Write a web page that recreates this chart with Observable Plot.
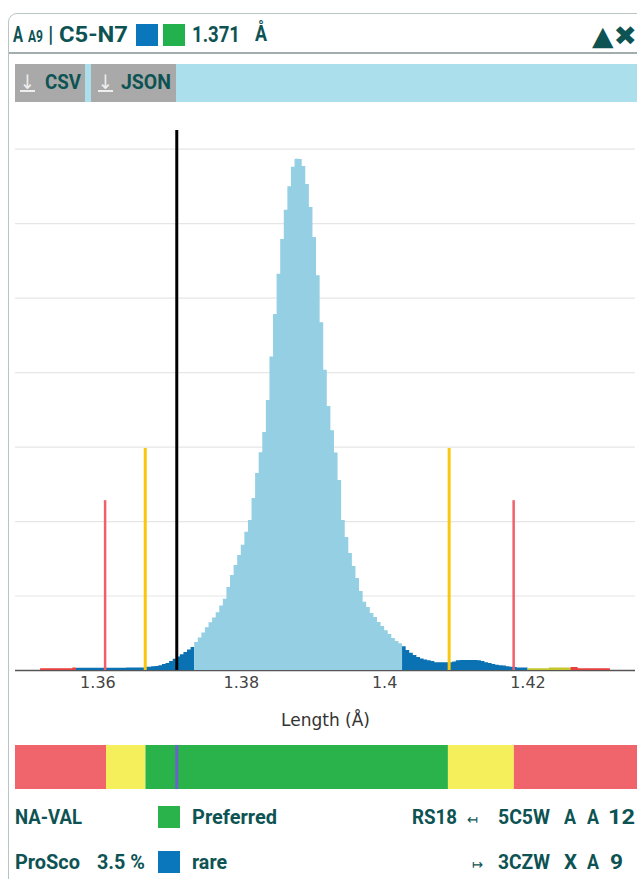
<!DOCTYPE html>
<html>
<head>
<meta charset="utf-8">
<script src="https://cdn.jsdelivr.net/npm/d3@7"></script>
<script src="https://cdn.jsdelivr.net/npm/@observablehq/plot@0.6"></script>
<style>
  html, body { margin: 0; padding: 0; background: #fff; }
  body { width: 637px; height: 879px; overflow: hidden; position: relative; font-family: Roboto, "Noto Sans", sans-serif; }
  .abs { position: absolute; white-space: nowrap; }
  .t { position: absolute; white-space: nowrap; font-weight: 700; color: #0e5353; transform-origin: 0 50%; }
</style>
</head>
<body>
<div class="abs" style="left:8px;top:13px;width:650px;height:900px;border:1.5px solid #b9c5c5;border-radius:9px;box-sizing:border-box;"></div>
<div class="abs" style="left:9px;top:52px;width:640px;height:2px;background:#a3adad;"></div>
<div class="abs" style="left:15px;top:64px;width:622px;height:38px;background:#aadfeb;"></div>
<div class="abs" style="left:15px;top:64px;width:70px;height:38px;background:#a9a9a9;"></div>
<div class="abs" style="left:91px;top:64px;width:85px;height:38px;background:#a9a9a9;"></div>
<div id="hist" class="abs" style="left:0;top:120px;"></div>
<div id="band" class="abs" style="left:0;top:745px;"></div>
<script>
// ---------- data ----------
const binStart = 1.352;
const binWidth = 0.0005;
const counts = [
  5,5,5,5,5,5,5,5,5,7,
  6,6,6,6,6,6,6,6,6,6,6,6,6,6,
  7,7,7,7,7,
  9,9,10,11,13,16,19,24,30,36,42,48,55,62,
  75,87,101,115,128,141,155,173,191,223,255,282,309,336,371,403,462,529,585,639,
  725,842,956,1064,1157,1236,1299,1351,1373,1372,1353,1305,1243,1163,1060,934,806,709,
  644,584,510,403,357,314,279,247,212,183,169,153,142,129,118,107,97,86,78,72,
  64,54,46,40,35,31,28,26,24,21,21,21,21,21,23,26,27,27,27,27,27,26,24,21,19,16,14,13,12,10,9,8,7,7,7,
  5,5,5,5,5,5,
  7,7,7,7,7,7,
  8,8,
  5,5,5,5,5,5,5,5,5
];
const zoneStarts = [1.352, 1.357, 1.3735, 1.4025, 1.420, 1.426];
const zoneNames  = ["extreme", "rare", "common", "rare", "outlier", "extreme"];
const zoneColors = {extreme: "#e8403f", rare: "#0a71b3", common: "#94cfe4", outlier: "#c4c62c"};

const ruleValues = [1.361, 1.3666, 1.371, 1.409, 1.418];
const ruleTops   = [456, 596, 1450, 596, 456];
const ruleKinds  = ["limit", "warn", "value", "warn", "limit"];
const ruleColors = {limit: "#f0606a", warn: "#f9c80e", value: "#000000"};
const ruleWidths = {limit: 2.5, warn: 3, value: 3};

const xTicks = [1.36, 1.38, 1.40, 1.42];
const xDomain = [1.3485, 1.435];

const bandEdges = [1.3485, 1.3612, 1.3667, 1.4089, 1.4181, 1.4353];
const bandKinds = ["bad", "ok", "good", "ok", "bad"];
const bandColors = {bad: "#f0646c", ok: "#f5ef5c", good: "#2ab34b"};
const measuredValue = 1.371;

// ---------- tables ----------
// each bin becomes a flat step (two points) inside its zone segment
const steps = [];
counts.forEach((c, i) => {
  const x1 = binStart + i * binWidth;
  let seg = 0;
  for (let k = 0; k < zoneStarts.length; k++) if (x1 >= zoneStarts[k] - 1e-9) seg = k;
  steps.push({x: x1, count: c, seg}, {x: x1 + binWidth, count: c, seg});
});
const rules = ruleValues.map((v, i) => ({x: v, top: ruleTops[i], kind: ruleKinds[i]}));
const band = bandKinds.map((k, i) => ({x1: bandEdges[i], x2: bandEdges[i + 1], kind: k}));

// ---------- histogram ----------
const hist = Plot.plot({
  width: 637,
  height: 615,
  marginLeft: 15,
  marginRight: 2,
  marginTop: 10,
  marginBottom: 65,
  style: {background: "transparent", overflow: "visible", fontFamily: "DejaVu Sans, sans-serif"},
  x: {domain: xDomain},
  y: {domain: [0, 1450], axis: null},
  marks: [
    Plot.gridY(d3.range(200, 1401, 200), {stroke: "#e6e6e6", strokeOpacity: 1, strokeWidth: 1.2}),
    Plot.ruleY([0], {stroke: "#555", strokeWidth: 1.5}),
    Plot.area(steps, {x1: "x", y1: 0, y2: "count", z: "seg", fill: d => zoneColors[zoneNames[d.seg]], curve: "linear"}),
    Plot.ruleX(rules, {x: "x", y1: 0, y2: "top", stroke: d => ruleColors[d.kind], strokeWidth: d => ruleWidths[d.kind]}),
    Plot.axisX({ticks: xTicks, tickSize: 0, tickPadding: 6, fontSize: 16, fill: "#444", label: null,
      tickFormat: d => d3.format("")(+d.toFixed(2))}),
    Plot.text(["Length (Å)"], {frameAnchor: "bottom", dy: 55, fontSize: 17, fill: "#333"})
  ]
});
document.getElementById("hist").appendChild(hist);

// ---------- band ----------
const bandPlot = Plot.plot({
  width: 637,
  height: 44,
  marginLeft: 15,
  marginRight: 2,
  marginTop: 0,
  marginBottom: 0,
  style: {background: "transparent", overflow: "visible"},
  x: {domain: xDomain, axis: null},
  y: {domain: [0, 1], axis: null},
  marks: [
    Plot.rect(band, {x1: "x1", x2: "x2", y1: 0, y2: 1, fill: d => bandColors[d.kind]}),
    Plot.ruleX([measuredValue], {stroke: "#6a62cc", strokeWidth: 3})
  ]
});
document.getElementById("band").appendChild(bandPlot);

// ---------- html texts ----------
function T(txt, x, y, size, w, extra) {
  const el = document.createElement("div");
  el.className = "t";
  el.textContent = txt;
  el.style.fontSize = size + "px";
  el.style.lineHeight = size + "px";
  el.style.left = x + "px";
  el.style.top = (y - 0.49 * size) + "px";
  if (extra) Object.assign(el.style, extra);
  document.body.appendChild(el);
  if (w) {
    const nw = el.getBoundingClientRect().width;
    if (nw > 0) el.style.transform = "scaleX(" + (w / nw) + ")";
  }
  return el;
}
function SQ(x, y, color) {
  const el = document.createElement("div");
  el.className = "abs";
  Object.assign(el.style, {left: x + "px", top: y + "px", width: "22px", height: "22px", background: color});
  document.body.appendChild(el);
}
// header
T("A", 13, 35, 22, 10);
T("A9", 28, 36, 17, 15);
T("|", 48, 35, 22, null, {fontWeight: 500});
T("C5-N7", 59, 35, 22, 69);
SQ(136, 24, "#0a77bd");
SQ(163, 24, "#22b14c");
T("1.371", 192, 35, 22, 48);
T("Å", 255, 34, 22, 12);
T("▲✖", 592, 35, 27, 45, {fontFamily: "DejaVu Sans"});
// buttons
T("↓", 20, 82, 20, 15, {color: "#eeeeee", fontWeight: 400, textDecoration: "underline", fontFamily: "DejaVu Sans"});
T("CSV", 45, 82, 20, 36);
T("↓", 98, 82, 20, 15, {color: "#eeeeee", fontWeight: 400, textDecoration: "underline", fontFamily: "DejaVu Sans"});
T("JSON", 121, 82, 20, 50);
// legend row 1
T("NA-VAL", 15, 817, 21, 67);
SQ(158, 806, "#2ab34b");
T("Preferred", 192, 817, 21, 85);
T("RS18", 412, 817, 21, 45);
T("↤", 467, 819, 14, 11, {fontWeight: 400, fontFamily: "DejaVu Sans"});
T("5C5W", 498, 817, 21, 52);
T("A", 564, 817, 21, 12);
T("A", 587, 817, 21, 12);
T("12", 608, 817, 21, 27);
// legend row 2
T("ProSco", 15, 862, 21, 65);
T("3.5 %", 97, 862, 21, 48);
SQ(158, 851, "#0a77bd");
T("rare", 192, 862, 21, 35);
T("↦", 472, 864, 14, 11, {fontWeight: 400, fontFamily: "DejaVu Sans"});
T("3CZW", 498, 862, 21, 52);
T("X", 564, 862, 21, 13);
T("A", 587, 862, 21, 12);
T("9", 610, 862, 21, 13);
</script>
</body>
</html>
